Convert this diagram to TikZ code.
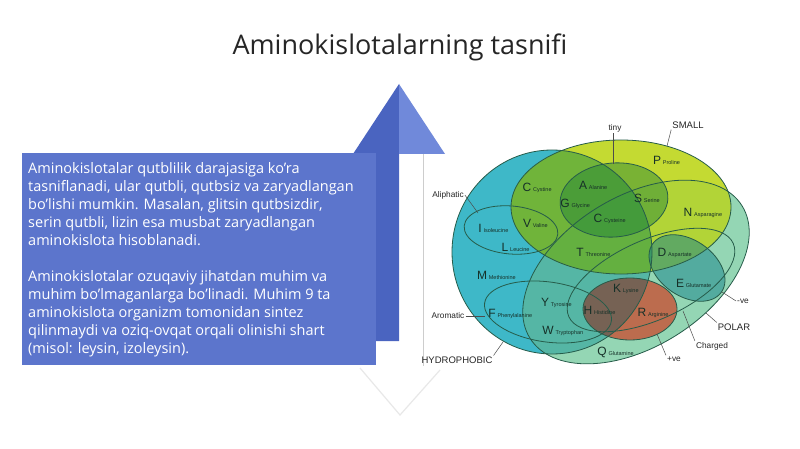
\documentclass[tikz,border=0pt]{standalone}
\usepackage{fontspec}
\setmainfont{Open Sans}
\newfontfamily\diagfont{Liberation Sans}
\usetikzlibrary{positioning}

\definecolor{titlegray}{RGB}{38,38,38}
\definecolor{boxblue}{RGB}{92,117,204}
\definecolor{shaftblue}{RGB}{74,100,192}
\definecolor{headlight}{RGB}{112,137,218}
\definecolor{fadegray}{RGB}{232,232,232}
\definecolor{linegray}{RGB}{205,205,205}
% set colours
\definecolor{hydrocol}{RGB}{62,184,200}
\definecolor{polarcol}{RGB}{148,214,180}
\definecolor{hydropolarcol}{RGB}{85,182,165}
\definecolor{smallcol}{RGB}{196,218,50}
\definecolor{smallpolarcol}{RGB}{178,212,55}
\definecolor{smallhydrocol}{RGB}{112,180,58}
\definecolor{allthreecol}{RGB}{100,176,64}
\definecolor{tinycol}{RGB}{30,130,55}
\definecolor{negcol}{RGB}{20,130,140}
\definecolor{poscol}{RGB}{188,108,78}
\definecolor{poshydrocol}{RGB}{118,98,84}
\definecolor{setdark}{RGB}{38,92,74}
\definecolor{letterdark}{RGB}{22,48,40}

% the sets of the diagram
\newcommand{\hydroset}{(552,252) ellipse [x radius=100, y radius=102]}
\newcommand{\polarset}{{[rotate around={32:(636,272)}] (636,272) ellipse [x radius=125, y radius=75]}}
\newcommand{\smallset}{(621,207) ellipse [x radius=110, y radius=67]}
\newcommand{\tinyset}{{[rotate around={5:(614,200)}] (614,200) ellipse [x radius=54, y radius=37]}}
\newcommand{\aliphset}{{[rotate around={-5:(511,230)}] (511,230) ellipse [x radius=47, y radius=24]}}
\newcommand{\aromset}{{[rotate around={-8:(548,312)}] (548,312) ellipse [x radius=64, y radius=30]}}
\newcommand{\chargedset}{{[rotate around={24:(651,280)}] (651,280) ellipse [x radius=90, y radius=40]}}
\newcommand{\negset}{{[rotate around={-35:(687,268)}] (687,268) ellipse [x radius=42, y radius=28]}}
\newcommand{\posset}{(630,309) ellipse [x radius=47, y radius=31]}

\tikzset{
  setline/.style={draw=setdark, line width=0.8pt},
  aaletter/.style={font=\diagfont\fontsize{12}{12}\selectfont, text=letterdark, inner sep=0pt},
  aaname/.style={font=\diagfont\fontsize{5.5}{5.5}\selectfont, text=letterdark, inner sep=0pt, anchor=base west},
  setlabel/.style={font=\diagfont\fontsize{8.3}{8.3}\selectfont, text=black!85, inner sep=1pt},
  biglabel/.style={font=\diagfont\fontsize{9.5}{9.5}\selectfont, text=black!85, inner sep=1pt},
  leader/.style={draw=black!70, line width=0.5pt},
}

\begin{document}
\begin{tikzpicture}[x=1pt, y=-1pt]

  %Canvas
  \fill[white] (0,0) rectangle (800,449);
  \useasboundingbox (0,0) rectangle (800,449);

  %Title
  \node[font=\fontsize{27}{27}\selectfont, text=titlegray, anchor=base] (title) at (400,55) {Aminokislotalarning tasnifi};

  %Arrow
  %up half
  \fill[shaftblue] (353,154) -- (399,84) -- (399,341) -- (376,341) -- (376,154) -- cycle;
  \fill[headlight] (399,84) -- (445,154) -- (399,154) -- cycle;
  %down half
  \draw[linegray, line width=1pt] (423,154) -- (423,366);
  \draw[fadegray, line width=1.2pt] (440,370) -- (400,415) -- (360,368);

  %Text box
  \fill[boxblue] (22,153) rectangle (376,365);
  \node[anchor=north west, inner sep=0pt, align=left, text=white,
        font=\fontsize{14.5}{18}\selectfont] (boxtext) at (28,162)
  {Aminokislotalar qutblilik darajasiga ko'ra\\
   tasniflanadi, ular qutbli, qutbsiz va zaryadlangan\\
   bo'lishi mumkin. Masalan, glitsin qutbsizdir,\\
   serin qutbli, lizin esa musbat zaryadlangan\\
   aminokislota hisoblanadi.\\[18pt]
   Aminokislotalar ozuqaviy jihatdan muhim va\\
   muhim bo'lmaganlarga bo'linadi. Muhim 9 ta\\
   aminokislota organizm tomonidan sintez\\
   qilinmaydi va oziq-ovqat orqali olinishi shart\\
   (misol: leysin, izoleysin).};

  %Sets
  %base fills
  \fill[polarcol] \polarset;
  \fill[hydrocol] \hydroset;
  \begin{scope}
    \clip \hydroset;
    \fill[hydropolarcol] \polarset;
  \end{scope}
  \fill[smallcol] \smallset;
  \begin{scope}
    \clip \smallset;
    \fill[smallpolarcol] \polarset;
  \end{scope}
  \begin{scope}
    \clip \smallset;
    \fill[smallhydrocol] \hydroset;
  \end{scope}
  \begin{scope}
    \clip \smallset;
    \clip \hydroset;
    \fill[allthreecol] \polarset;
  \end{scope}
  %tiny, charged
  \fill[tinycol, fill opacity=0.45] \tinyset;
  \fill[negcol, fill opacity=0.5] \negset;
  \fill[poscol] \posset;
  \begin{scope}
    \clip \hydroset;
    \fill[poshydrocol] \posset;
  \end{scope}

  %outlines
  \draw[setline] \hydroset;
  \draw[setline] \polarset;
  \draw[setline] \smallset;
  \draw[setline] \tinyset;
  \draw[setline] \aliphset;
  \draw[setline] \aromset;
  \draw[setline] \chargedset;
  \draw[setline] \negset;
  \draw[setline] \posset;

  %Amino acids
  %small
  \node[aaletter] (lC1) at (527,187) {C};
  \node[aaname] (nC1) at ([xshift=1.5pt]lC1.base east) {Cystine};
  \node[aaletter] (lA) at (583,185) {A};
  \node[aaname] (nA) at ([xshift=1.5pt]lA.base east) {Alanine};
  \node[aaletter] (lG) at (565,203) {G};
  \node[aaname] (nG) at ([xshift=1.5pt]lG.base east) {Glycine};
  \node[aaletter] (lS) at (638,198) {S};
  \node[aaname] (nS) at ([xshift=1.5pt]lS.base east) {Serine};
  \node[aaletter] (lC2) at (598,218) {C};
  \node[aaname] (nC2) at ([xshift=1.5pt]lC2.base east) {Cysteine};
  \node[aaletter] (lP) at (657,160) {P};
  \node[aaname] (nP) at ([xshift=1.5pt]lP.base east) {Proline};
  \node[aaletter] (lN) at (688,212) {N};
  \node[aaname] (nN) at ([xshift=1.5pt]lN.base east) {Asparagine};
  \node[aaletter] (lT) at (580,252) {T};
  \node[aaname] (nT) at ([xshift=1.5pt]lT.base east) {Threonine};
  %aliphatic
  \node[aaletter] (lV) at (527,223) {V};
  \node[aaname] (nV) at ([xshift=1.5pt]lV.base east) {Valine};
  \node[aaletter] (lI) at (480,228) {I};
  \node[aaname] (nI) at ([xshift=1.5pt]lI.base east) {Isoleucine};
  \node[aaletter] (lL) at (505,247) {L};
  \node[aaname] (nL) at ([xshift=1.5pt]lL.base east) {Leucine};
  \node[aaletter] (lM) at (482,275) {M};
  \node[aaname] (nM) at ([xshift=1.5pt]lM.base east) {Methionine};
  %charged
  \node[aaletter] (lD) at (662,252) {D};
  \node[aaname] (nD) at ([xshift=1.5pt]lD.base east) {Aspartate};
  \node[aaletter] (lE) at (680,283) {E};
  \node[aaname] (nE) at ([xshift=1.5pt]lE.base east) {Glutamate};
  \node[aaletter] (lK) at (617,288) {K};
  \node[aaname] (nK) at ([xshift=1.5pt]lK.base east) {Lysine};
  \node[aaletter] (lH) at (588,310) {H};
  \node[aaname] (nH) at ([xshift=1.5pt]lH.base east) {Histidine};
  \node[aaletter] (lR) at (642,312) {R};
  \node[aaname] (nR) at ([xshift=1.5pt]lR.base east) {Arginine};
  %aromatic
  \node[aaletter] (lY) at (545,302) {Y};
  \node[aaname] (nY) at ([xshift=1.5pt]lY.base east) {Tyrosine};
  \node[aaletter] (lF) at (492,313) {F};
  \node[aaname] (nF) at ([xshift=1.5pt]lF.base east) {Phenylalanine};
  \node[aaletter] (lW) at (548,330) {W};
  \node[aaname] (nW) at ([xshift=1.5pt]lW.base east) {Tryptophan};
  \node[aaletter] (lQ) at (602,352) {Q};
  \node[aaname] (nQ) at ([xshift=1.5pt]lQ.base east) {Glutamine};

  %Set labels
  \node[setlabel] (tinylbl) at (615,128) {tiny};
  \coordinate (tinyedge) at (613,164);
  \draw[leader] (tinyedge |- tinylbl.south) -- (tinyedge);

  \node[biglabel] (smalllbl) at (688,125) {SMALL};
  \coordinate (smalledge) at (667,146);
  \draw[leader] (smalllbl.south west) -- (smalledge);

  \node[setlabel] (aliphlbl) at (448,195) {Aliphatic};
  \coordinate (aliphedge) at (478,213);
  \draw[leader] (aliphlbl.east) -- (aliphedge);

  \node[setlabel] (aromlbl) at (448,316) {Aromatic};
  \coordinate (aromedge) at (485,316);
  \draw[leader] (aromlbl.east) -- (aromedge);

  \node[biglabel] (hydrolbl) at (457,360) {HYDROPHOBIC};
  \coordinate (hydroedge) at (503,342);
  \draw[leader] (hydrolbl.north east) -- (hydroedge);

  \node[setlabel] (neglbl) at (743,301) {-ve};
  \coordinate (negedge) at (722,292);
  \draw[leader] (neglbl.west) -- (negedge);

  \node[biglabel] (polarlbl) at (734,327) {POLAR};
  \coordinate (polaredge) at (706,313);
  \draw[leader] (polarlbl.north west) -- (polaredge);

  \node[setlabel] (chargedlbl) at (712,346) {Charged};
  \coordinate (chargededge) at (683,311);
  \draw[leader] (chargedlbl.north west) -- (chargededge);

  \node[setlabel] (poslbl) at (674,359) {+ve};
  \coordinate (posedge) at (657,334);
  \draw[leader] (poslbl.north west) -- (posedge);

\end{tikzpicture}
\end{document}
